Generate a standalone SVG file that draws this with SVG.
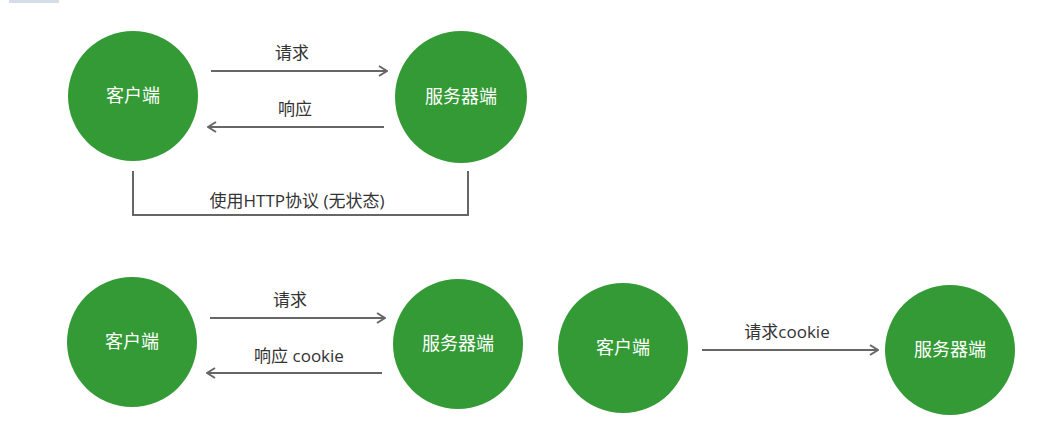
<svg xmlns="http://www.w3.org/2000/svg" width="1062" height="440" viewBox="0 0 1062 440">
<style>
.node{fill:#339a35}
.nt{fill:#ffffff;font-family:"Open Sans","Noto Sans CJK SC",sans-serif;font-size:18px;text-anchor:middle}
.lb{fill:#333333;font-family:"Open Sans","Noto Sans CJK SC",sans-serif;font-size:17px;text-anchor:middle}
.ln{stroke:#666666;stroke-width:2;fill:none}
</style>
<defs>
<marker id="ah" viewBox="0 0 10 12" refX="9" refY="6" markerWidth="10" markerHeight="12" markerUnits="userSpaceOnUse" orient="auto">
<path d="M1,1 L9,6 L1,11" fill="none" stroke="#666666" stroke-width="2"/>
</marker>
</defs>
<rect x="9" y="0" width="50" height="3" fill="#d5dee8"/>
<g id="client1"><circle class="node" cx="133" cy="96" r="65"/><text class="nt" x="133" y="102">客户端</text></g>
<g id="server1"><circle class="node" cx="461" cy="97" r="66"/><text class="nt" x="461" y="103">服务器端</text></g>
<g id="client2"><circle class="node" cx="132" cy="342" r="65"/><text class="nt" x="132" y="348">客户端</text></g>
<g id="server2"><circle class="node" cx="458" cy="344" r="65"/><text class="nt" x="458" y="350">服务器端</text></g>
<g id="client3"><circle class="node" cx="623" cy="348" r="65"/><text class="nt" x="623" y="354">客户端</text></g>
<g id="server3"><circle class="node" cx="950" cy="350" r="65"/><text class="nt" x="950" y="356">服务器端</text></g>
<g id="connectors">
<line class="ln" x1="211" y1="71" x2="387" y2="71" marker-end="url(#ah)"/>
<line class="ln" x1="384" y1="127" x2="208" y2="127" marker-end="url(#ah)"/>
<polyline class="ln" points="133,171 133,215 468,215 468,171"/>
<line class="ln" x1="210" y1="318" x2="385" y2="318" marker-end="url(#ah)"/>
<line class="ln" x1="382" y1="373" x2="207" y2="373" marker-end="url(#ah)"/>
<line class="ln" x1="702" y1="350" x2="878" y2="350" marker-end="url(#ah)"/>
</g>
<g id="labels">
<text class="lb" x="292" y="59">请求</text>
<text class="lb" x="295" y="115">响应</text>
<text class="lb" x="297" y="207">使用HTTP协议 (无状态)</text>
<text class="lb" x="290" y="306">请求</text>
<text class="lb" x="299" y="362">响应 cookie</text>
<text class="lb" x="787" y="338">请求cookie</text>
</g>
</svg>
